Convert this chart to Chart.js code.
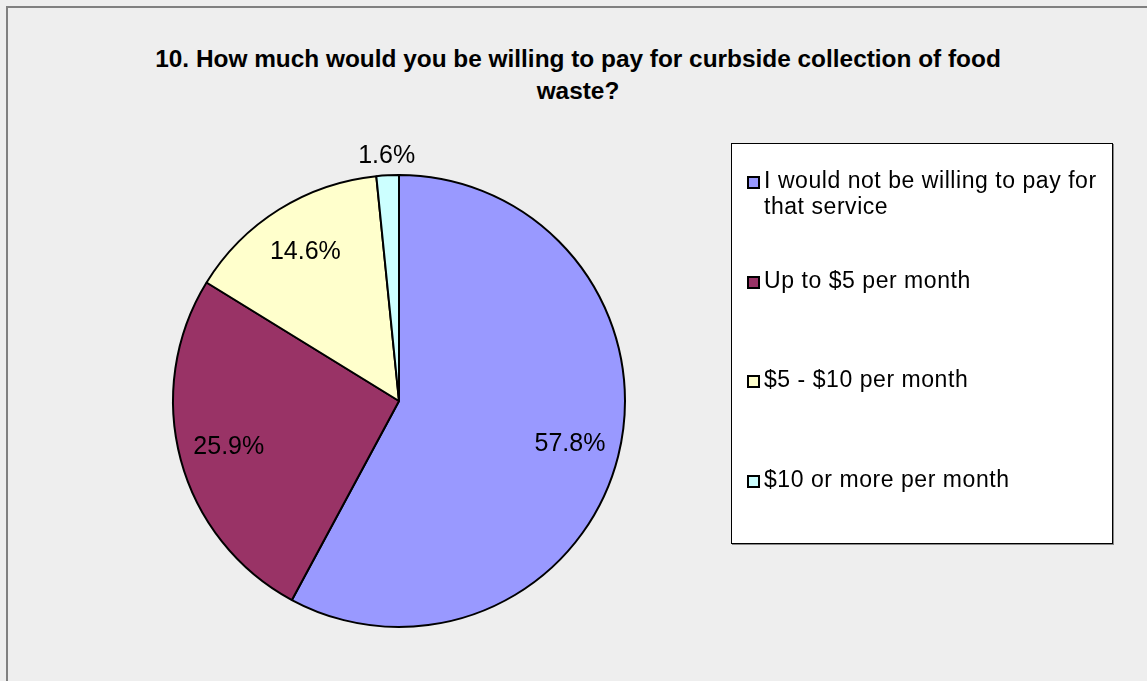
<!DOCTYPE html>
<html>
<head>
<meta charset="utf-8">
<title>Curbside food waste survey</title>
<script src="https://cdn.jsdelivr.net/npm/chart.js@4/dist/chart.umd.min.js"></script>
<style>
  html, body { margin: 0; padding: 0; }
  body {
    width: 1147px; height: 681px; overflow: hidden;
    background: #eeeeee; position: relative;
    font-family: "Liberation Sans", Arial, Helvetica, sans-serif;
  }
  #frame {
    position: absolute; left: 6px; top: 6px;
    width: 1200px; height: 800px;
    border: 2px solid #808080;
  }
  #title {
    position: absolute; left: 78px; width: 1000px; top: 43px;
    text-align: center; font-weight: bold; font-size: 24.4px; line-height: 32px;
    color: #000;
  }
  #chartWrap { position: absolute; left: 0; top: 0; width: 798px; height: 681px; }
  #legend {
    position: absolute; left: 731px; top: 143px; width: 380px; height: 399px;
    background: #fff; border: 1px solid #000; box-shadow: 1px 1px 0 #888;
  }
  .item { position: absolute; left: 15px; height: 100px; display: flex; align-items: flex-start; }
  .swatch {
    width: 9px; height: 9px; border: 2px solid #000; margin-top: 9px; margin-right: 4px;
    flex: none;
  }
  .text { font-size: 23px; letter-spacing: 0.55px; line-height: 26px; color: #000; width: 342px; }
</style>
</head>
<body>
<div id="frame"></div>
<div id="title">10. How much would you be willing to pay for curbside collection of food<br>waste?</div>
<div id="chartWrap"><canvas id="pie"></canvas></div>
<div id="legend"></div>

<script>
const categories = [
  "I would not be willing to pay for that service",
  "Up to $5 per month",
  "$5 - $10 per month",
  "$10 or more per month"
];
const shares = [57.8, 25.9, 14.6, 1.6];
const sliceColors = ["#9999ff", "#993366", "#ffffcc", "#ccffff"];

// percentage text on each slice; thin slices get their label outside the rim
const sliceLabels = {
  id: "sliceLabels",
  afterDatasetsDraw(chart) {
    const ctx = chart.ctx;
    const meta = chart.getDatasetMeta(0);
    ctx.save();
    ctx.font = "25px 'Liberation Sans', Arial, sans-serif";
    ctx.fillStyle = "#000";
    ctx.textAlign = "center";
    ctx.textBaseline = "middle";
    meta.data.forEach((arc, i) => {
      const p = arc.getProps(["x", "y", "startAngle", "endAngle", "outerRadius"], true);
      const mid = (p.startAngle + p.endAngle) / 2;
      const small = shares[i] < 5;
      const r = small ? p.outerRadius + 19 : p.outerRadius * 0.78;
      ctx.fillText(shares[i].toFixed(1) + "%", p.x + Math.cos(mid) * r, p.y + Math.sin(mid) * r);
    });
    ctx.restore();
  }
};

const chart = new Chart(document.getElementById("pie"), {
  type: "pie",
  data: {
    labels: categories,
    datasets: [{
      data: shares,
      backgroundColor: sliceColors,
      borderColor: "#000",
      borderWidth: 2
    }]
  },
  options: {
    responsive: true,
    maintainAspectRatio: false,
    animation: false,
    layout: { padding: { left: 172, right: 172, top: 174, bottom: 53 } },
    plugins: {
      legend: { display: false },
      tooltip: { enabled: false }
    }
  },
  plugins: [sliceLabels]
});

// boxed legend on the right
const legend = document.getElementById("legend");
categories.forEach((name, i) => {
  const item = document.createElement("div");
  item.className = "item";
  item.style.top = (23 + i * 99.5) + "px";
  item.innerHTML = `<div class="swatch" style="background:${sliceColors[i]}"></div><div class="text">${name}</div>`;
  legend.appendChild(item);
});
</script>
</body>
</html>
